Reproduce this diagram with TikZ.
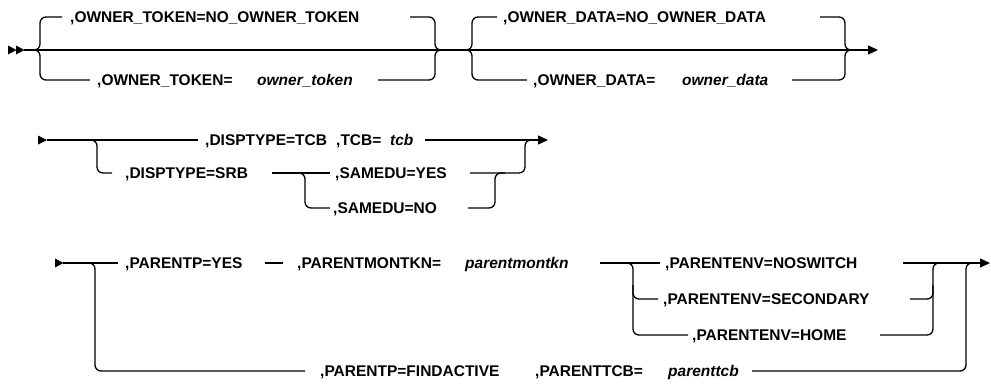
\documentclass[tikz,border=0pt]{standalone}
\usepackage{fontspec}
\setmainfont{Liberation Sans}
\usetikzlibrary{arrows.meta}
\begin{document}
\begin{tikzpicture}[x=1pt,y=-1pt,
  rail/.style={line width=1.3pt, rounded corners=6pt},
  kw/.style={font=\bfseries\fontsize{15.5}{18}\selectfont, anchor=base west, inner sep=0pt},
  var/.style={font=\bfseries\itshape\fontsize{15.5}{18}\selectfont, anchor=base west, inner sep=0pt},
  endarrow/.style={-{Triangle[length=10pt,width=9pt]}},
  tip/.style={fill=black}]
\useasboundingbox (0,0) rectangle (991,384);

% ---------------- Row 1 ----------------
\fill[tip] (8,45.5) -- (16.5,50) -- (8,54.5) -- cycle;
\fill[tip] (16,45.5) -- (24.5,50) -- (16,54.5) -- cycle;
\coordinate (r1s) at (24,50);
\coordinate (r1e) at (878,50);
\draw[rail,endarrow] (r1s) -- (r1e);

\node[kw] (ot1) at (70,22.5) {,OWNER\_TOKEN=NO\_OWNER\_TOKEN};
\node[kw] (ot2) at (97,85.5) {,OWNER\_TOKEN=};
\node[var] (ot3) at (257,85.5) {owner\_token};
\coordinate (b1l) at (33,50);
\coordinate (b1r) at (442,50);
\draw[rail] (b1l) -| (40,17) -- (62,17);
\draw[rail] (b1l) -| (40,80) -- (90,80);
\draw[rail] (410,17) -| (435,50) -- (b1r);
\draw[rail] (378,80) -| (435,50) -- (b1r);

\node[kw] (od1) at (503,22.5) {,OWNER\_DATA=NO\_OWNER\_DATA};
\node[kw] (od2) at (533,85.5) {,OWNER\_DATA=};
\node[var] (od3) at (682,85.5) {owner\_data};
\coordinate (b2l) at (465,50);
\coordinate (b2r) at (852,50);
\draw[rail] (b2l) -| (472,17) -- (497,17);
\draw[rail] (b2l) -| (472,80) -- (527,80);
\draw[rail] (820,17) -| (845,50) -- (b2r);
\draw[rail] (792,80) -| (845,50) -- (b2r);

% ---------------- Row 2 ----------------
\fill[tip] (38,135.5) -- (47,140) -- (38,144.5) -- cycle;
\coordinate (r2s) at (47,140);
\coordinate (r2a) at (198,140);
\coordinate (r2b) at (425,140);
\coordinate (r2e) at (548,140);
\draw[rail] (r2s) -- (r2a);
\node[kw] (dt1) at (205,145.5) {,DISPTYPE=TCB};
\node[kw] (tc1) at (336,145.5) {,TCB=};
\node[var] (tc2) at (390,145.5) {tcb};
\draw[rail,endarrow] (r2b) -- (r2e);

\node[kw] (dt2) at (125,178.5) {,DISPTYPE=SRB};
\node[kw] (sd1) at (335,178.5) {,SAMEDU=YES};
\node[kw] (sd2) at (333,213.5) {,SAMEDU=NO};
\draw[rail] (85,140) -| (97,173) -- (112,173);
\draw[rail] (272,173) -- (330,173);
\draw[rail] (295,173) -| (305,208) -- (330,208);
\draw[rail] (470,173) -| (525,140) -- (535,140);
\draw[rail] (468,208) -| (495,173) -- (505,173);

% ---------------- Row 3 ----------------
\fill[tip] (55,258.5) -- (63.5,263) -- (55,267.5) -- cycle;
\coordinate (r3s) at (63,263);
\coordinate (r3e) at (990,263);
\draw[rail] (r3s) -- (118,263);
\node[kw] (pp1) at (125,268.5) {,PARENTP=YES};
\draw[rail] (265,263) -- (283,263);
\node[kw] (pm1) at (297,268.5) {,PARENTMONTKN=};
\node[var] (pm2) at (465,268.5) {parentmontkn};
\draw[rail] (600,263) -- (660,263);
\node[kw] (pe1) at (665,268.5) {,PARENTENV=NOSWITCH};
\node[kw] (pe2) at (663,304.5) {,PARENTENV=SECONDARY};
\node[kw] (pe3) at (692,340.5) {,PARENTENV=HOME};
\draw[rail,endarrow] (903,263) -- (r3e);

\draw[rail] (625,263) -| (633,335) -- (688,335);
\draw[rail] (633,285) |- (658,299);
\draw[rail] (880,335) -| (933,263) -- (945,263);
\draw[rail] (910,299) -| (933,285);

\node[kw] (pp2) at (320,376.5) {,PARENTP=FINDACTIVE};
\node[kw] (pt1) at (535,376.5) {,PARENTTCB=};
\node[var] (pt2) at (668,376.5) {parenttcb};
\draw[rail] (85,263) -| (95,371) -- (305,371);
\draw[rail] (752,371) -| (966,263) -- (976,263);
\end{tikzpicture}
\end{document}
